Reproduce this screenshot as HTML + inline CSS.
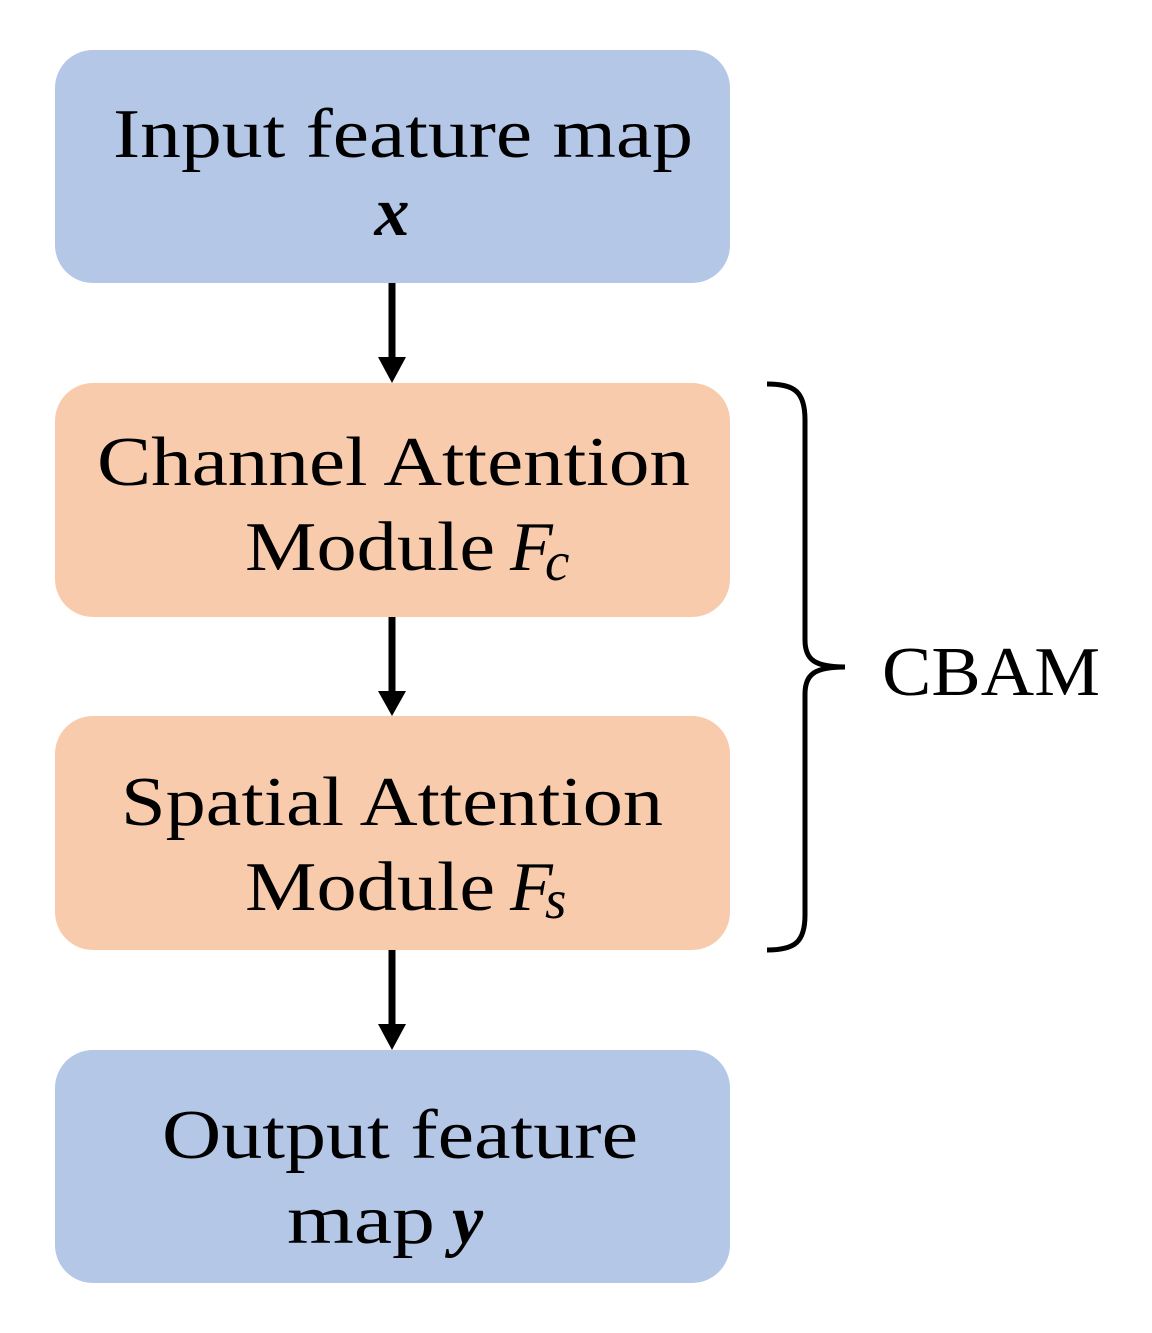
<!DOCTYPE html>
<html><head><meta charset="utf-8"><style>html,body{margin:0;padding:0;background:#fff}</style></head>
<body>
<svg width="1152" height="1328" viewBox="0 0 1152 1328" xmlns="http://www.w3.org/2000/svg" font-family="'Liberation Serif', serif" font-size="70" fill="#000">
<rect x="55" y="50" width="675" height="233" rx="38" fill="#b4c7e7"/>
<rect x="55" y="383" width="675" height="234" rx="38" fill="#f8cbad"/>
<rect x="55" y="716" width="675" height="234" rx="38" fill="#f8cbad"/>
<rect x="55" y="1050" width="675" height="233" rx="38" fill="#b4c7e7"/>
<g stroke="#000" stroke-width="7">
<line x1="392" y1="283" x2="392" y2="360"/>
<line x1="392" y1="617" x2="392" y2="693"/>
<line x1="392" y1="950" x2="392" y2="1027"/>
</g>
<polygon points="378,357 406,357 392,383"/>
<polygon points="378,691 406,691 392,716"/>
<polygon points="378,1024 406,1024 392,1050"/>
<path d="M767,384 C795,384 805,392 805,420 L805,640 C805,660 815,667 845,667 C815,667 805,674 805,694 L805,915 C805,942 795,950 767,950" fill="none" stroke="#000" stroke-width="5"/>
<text x="113" y="157" textLength="580" lengthAdjust="spacingAndGlyphs">Input feature map</text>
<text x="392" y="235" text-anchor="middle" font-weight="bold" font-style="italic">x</text>
<text x="97" y="485" textLength="593" lengthAdjust="spacingAndGlyphs">Channel Attention</text>
<text x="245" y="570" textLength="250" lengthAdjust="spacingAndGlyphs">Module</text>
<text x="510" y="570" font-style="italic">F</text><text x="545" y="580" font-style="italic" font-size="55">c</text>
<text x="121" y="825" textLength="542" lengthAdjust="spacingAndGlyphs">Spatial Attention</text>
<text x="245" y="910" textLength="250" lengthAdjust="spacingAndGlyphs">Module</text>
<text x="510" y="910" font-style="italic">F</text><text x="545" y="918" font-style="italic" font-size="55">s</text>
<text x="162" y="1158" textLength="476" lengthAdjust="spacingAndGlyphs">Output feature</text>
<text x="287" y="1243" textLength="148" lengthAdjust="spacingAndGlyphs">map</text>
<text x="452" y="1243" font-weight="bold" font-style="italic">y</text>
<text x="882" y="695" textLength="218" lengthAdjust="spacingAndGlyphs">CBAM</text>
</svg>
</body></html>
